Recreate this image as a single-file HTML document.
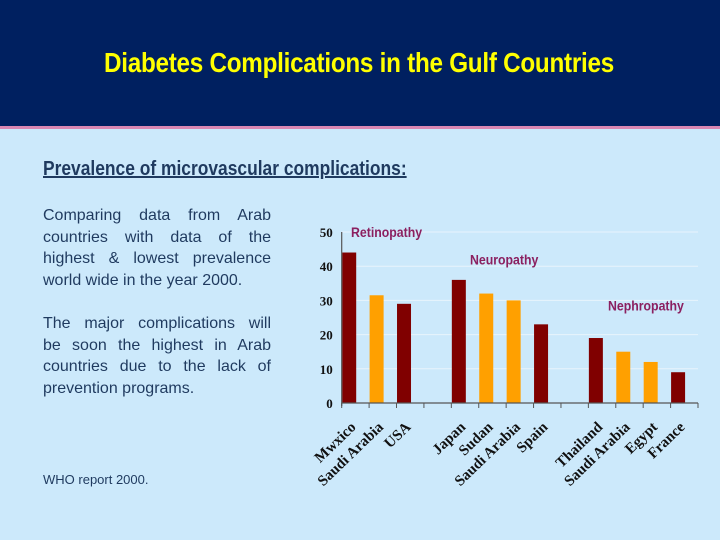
<!DOCTYPE html>
<html><head><meta charset="utf-8"><style>
body{margin:0;width:720px;height:540px;overflow:hidden;background:#cce9fb;font-family:"Liberation Sans",sans-serif;position:relative}
#hdr{position:absolute;left:0;top:0;width:720px;height:126px;background:#002060}
#pink{position:absolute;left:0;top:126px;width:720px;height:3px;background:#d987b3}
#title{position:absolute;left:104px;top:47px;color:#ffff00;font-weight:bold;font-size:28px;white-space:nowrap;transform:scaleX(0.866);transform-origin:left top;letter-spacing:-0.3px}
#sub{position:absolute;left:43px;top:158px;color:#1f3a5f;font-weight:bold;font-size:20px;text-decoration:underline;white-space:nowrap;transform:scaleX(0.87);transform-origin:left top}
.p{position:absolute;left:43px;width:228px;color:#1f3a5f;font-size:16px;line-height:21.6px}
.p div{text-align:justify;text-align-last:justify;white-space:nowrap}
.p div.l{text-align-last:left}
#src{position:absolute;left:43px;top:472px;color:#1f3a5f;font-size:13px}
</style></head><body>
<div id="hdr"></div>
<div id="pink"></div>
<div id="title">Diabetes Complications in the Gulf Countries</div>
<div id="sub">Prevalence of microvascular complications:</div>
<div class="p" style="top:205px"><div>Comparing data from Arab</div><div>countries with data of the</div><div>highest &amp; lowest prevalence</div><div class="l">world wide in the year 2000.</div></div>
<div class="p" style="top:313px"><div>The major complications will</div><div>be soon the highest in Arab</div><div>countries due to the lack of</div><div class="l">prevention programs.</div></div>
<div id="src">WHO report 2000.</div>
<svg id="chart" width="720" height="540" style="position:absolute;left:0;top:0"></svg>
<script>
const categories=["Mwxico","Saudi Arabia","USA","","Japan","Sudan","Saudi Arabia","Spain","","Thailand","Saudi Arabia","Egypt","France"];
const values=[44,31.5,29,null,36,32,30,23,null,19,15,12,9];
const arab=[false,true,false,false,false,true,true,false,false,false,true,true,false];
const yTicks=[0,10,20,30,40,50];
const groupLabels=["Retinopathy","Neuropathy","Nephropathy"];
const groupVals=[48.5,40.5,27];
const groupX=[351,470,608];
const NS="http://www.w3.org/2000/svg";
const svg=document.getElementById('chart');
const x0=341.7,x1=698,yB=403,yT=232,yMax=50;
const slot=(x1-x0)/categories.length;
const y=v=>yB-(v/yMax)*(yB-yT);
const xs=i=>x0+i*slot;
function mk(t,a){const e=document.createElementNS(NS,t);for(const k in a)e.setAttribute(k,a[k]);svg.appendChild(e);return e;}
yTicks.forEach(t=>{
 if(t>0){const g=mk('line',{x1:x0,x2:x1,y1:y(t),y2:y(t),stroke:'#e8f4fc','stroke-width':1});
 
 }
 const l=mk('text',{x:x0-9,y:y(t)+5,'text-anchor':'end','font-family':'Liberation Serif,serif','font-weight':'bold','font-size':13,fill:'#111'});
 l.textContent=t;
 
 
});
values.forEach((v,i)=>{
 if(v===null)return;
 const r=mk('rect',{x:xs(i)+0.5,y:y(v),width:14,height:yB-y(v),fill:arab[i]?'#ffa000':'#800000'});
 
 
});
const ax=mk('line',{x1:x0,x2:x0,y1:yT,y2:yB+3,stroke:'#555','stroke-width':1.2});


const bx=mk('line',{x1:x0,x2:x1,y1:yB,y2:yB,stroke:'#555','stroke-width':1.2});


for(let i=0;i<=categories.length;i++){
 const tk=mk('line',{x1:xs(i),x2:xs(i),y1:yB,y2:yB+5,stroke:'#555'});
 
 
}
categories.forEach((c,i)=>{
 if(!c)return;
 const tx=xs(i)+15,ty=yB+25;
 const t=mk('text',{x:tx,y:ty,'text-anchor':'end','font-family':'Liberation Serif,serif','font-weight':'bold','font-size':15,fill:'#111',transform:`rotate(-44 ${tx} ${ty})`});
 t.textContent=c;
 
 
});
groupLabels.forEach((g,i)=>{
 const t=mk('text',{x:groupX[i],y:y(groupVals[i]),'font-family':'Liberation Sans,sans-serif','font-weight':'bold','font-size':14,fill:'#8b2060',transform:`translate(${groupX[i]} 0) scale(0.88 1) translate(${-groupX[i]} 0)`});
 t.textContent=g;
 
 
});
</script>
</body></html>
